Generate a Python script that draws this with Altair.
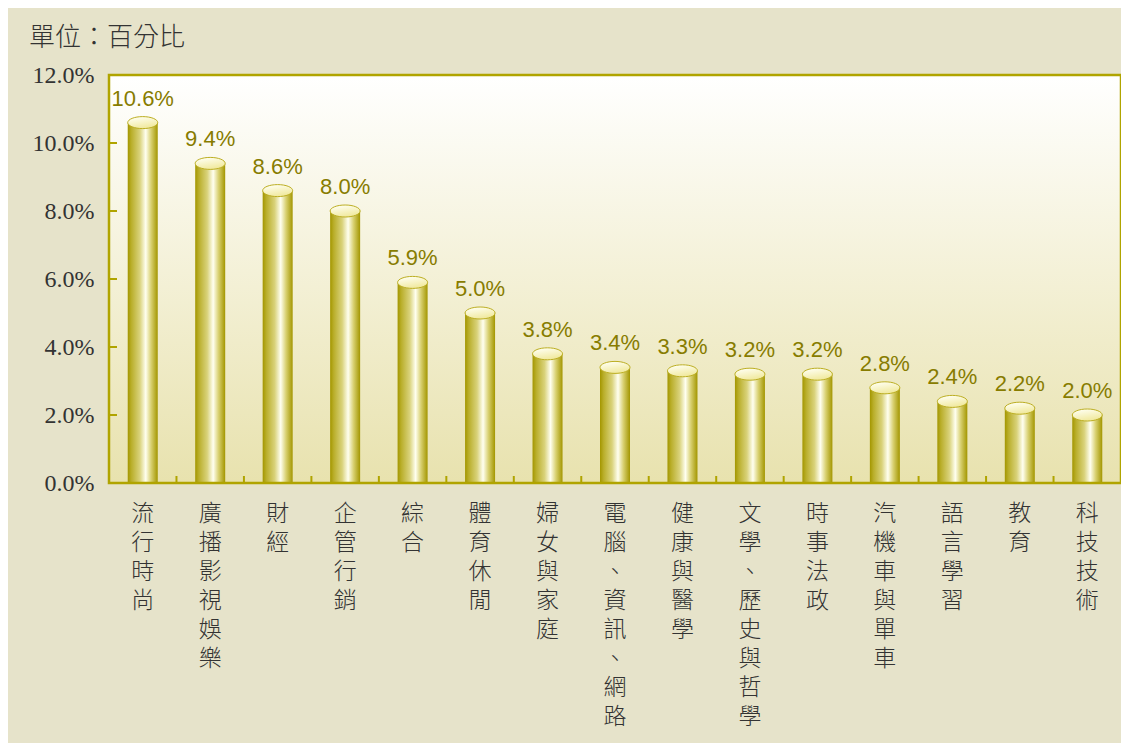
import altair as alt
import pandas as pd

# ---- data ----
categories = ["流行時尚", "廣播影視娛樂", "財經", "企管行銷", "綜合", "體育休閒",
              "婦女與家庭", "電腦、資訊、網路", "健康與醫學", "文學、歷史與哲學",
              "時事法政", "汽機車與單車", "語言學習", "教育", "科技技術"]
values = [10.6, 9.4, 8.6, 8.0, 5.9, 5.0, 3.8, 3.4, 3.3, 3.2, 3.2, 2.8, 2.4, 2.2, 2.0]
y_axis_values = [0, 2, 4, 6, 8, 10, 12]
inner_tick_values = [2, 4, 6, 8, 10]
unit_title = ["單位：百分比"]

df = pd.DataFrame({"cat": categories, "val": values})
df["label"] = [f"{v:.1f}%" for v in values]

W, H = 1012, 408
OLIVE = "#b0a400"

xscale = alt.Scale(domain=categories, paddingInner=0, paddingOuter=0)
yscale = alt.Scale(domain=[0, 12], nice=False)

xaxis = alt.Axis(title=None, domain=False, ticks=False, labelAngle=0,
                 labelExpr="split(datum.value, '')", labelFont="Noto Sans CJK TC",
                 labelFontSize=23, labelFontWeight=300, labelLineHeight=29,
                 labelBaseline="top", labelPadding=19, labelColor="#333333",
                 labelOverlap=False, labelLimit=0)
yaxis = alt.Axis(title=None, domain=False, ticks=False, grid=False,
                 values=y_axis_values,
                 labelExpr="format(datum.value, '.1f') + '%'",
                 labelFont="Liberation Serif", labelFontSize=24,
                 labelColor="#333333", labelPadding=15)

X = alt.X("cat:N", sort=categories, scale=xscale, axis=xaxis)
Y = alt.Y("val:Q", scale=yscale, axis=yaxis)

one = pd.DataFrame({"a": [0]})

bg = alt.Chart(one).mark_rect(
    fill={"gradient": "linear", "x1": 0, "x2": 0, "y1": 0, "y2": 1,
          "stops": [{"offset": 0, "color": "#ffffff"},
                    {"offset": 1, "color": "#e8e2ae"}]}
).encode(x=alt.value(0), x2=alt.value(W), y=alt.value(0), y2=alt.value(H))

bars = alt.Chart(df).mark_bar(
    size=30,
    fill={"gradient": "linear", "x1": 0, "x2": 1, "y1": 0, "y2": 0,
          "stops": [{"offset": 0, "color": "#a39600"},
                    {"offset": 0.12, "color": "#b9ae2a"},
                    {"offset": 0.4, "color": "#d9d27a"},
                    {"offset": 0.6, "color": "#fffff0"},
                    {"offset": 0.78, "color": "#d8d070"},
                    {"offset": 1, "color": "#a39600"}]}
).encode(x=X, y=Y)

ellipse = "M-1,0A1,0.4,0,1,1,1,0A1,0.4,0,1,1,-1,0Z"
tops = alt.Chart(df).mark_point(
    shape=ellipse, size=900, filled=True, opacity=1,
    fill={"gradient": "linear", "x1": 0.3, "x2": 0.7, "y1": 0, "y2": 1,
          "stops": [{"offset": 0, "color": "#fffff2"},
                    {"offset": 1, "color": "#efe796"}]},
    stroke="#bcae22", strokeWidth=1
).encode(x=X, y=Y)

labels = alt.Chart(df).mark_text(
    font="Liberation Sans", fontSize=22, color="#877c00",
    baseline="alphabetic", dy=-17
).encode(x=X, y=Y, text="label:N")

yticks = alt.Chart(pd.DataFrame({"val": inner_tick_values})).mark_rule(
    color=OLIVE, strokeWidth=2
).encode(y=Y, x=alt.value(0), x2=alt.value(8))

xticks = alt.Chart(df).mark_rule(color=OLIVE, strokeWidth=2).encode(
    x=alt.X("cat:N", sort=categories, scale=xscale, axis=xaxis, bandPosition=0),
    y=alt.value(H - 7), y2=alt.value(H))

frame = alt.Chart(one).mark_rect(
    fillOpacity=0, stroke=OLIVE, strokeWidth=2.5
).encode(x=alt.value(0), x2=alt.value(W), y=alt.value(0), y2=alt.value(H))

title = alt.Chart(pd.DataFrame({"t": unit_title})).mark_text(
    align="left", baseline="middle", font="Noto Sans CJK TC",
    fontSize=26, fontWeight=300, color="#333333"
).encode(x=alt.value(-80), y=alt.value(-37), text="t:N")

chart = alt.layer(bg, bars, tops, labels, yticks, xticks, frame, title).properties(
    width=W, height=H,
    padding={"left": 101, "top": 67, "right": 0, "bottom": 260},
    autosize=alt.AutoSizeParams(type="none"),
    background="#e6e3ca"
).configure_view(stroke=None)

chart.save("out.html", embed_options={"renderer": "svg", "actions": False})
